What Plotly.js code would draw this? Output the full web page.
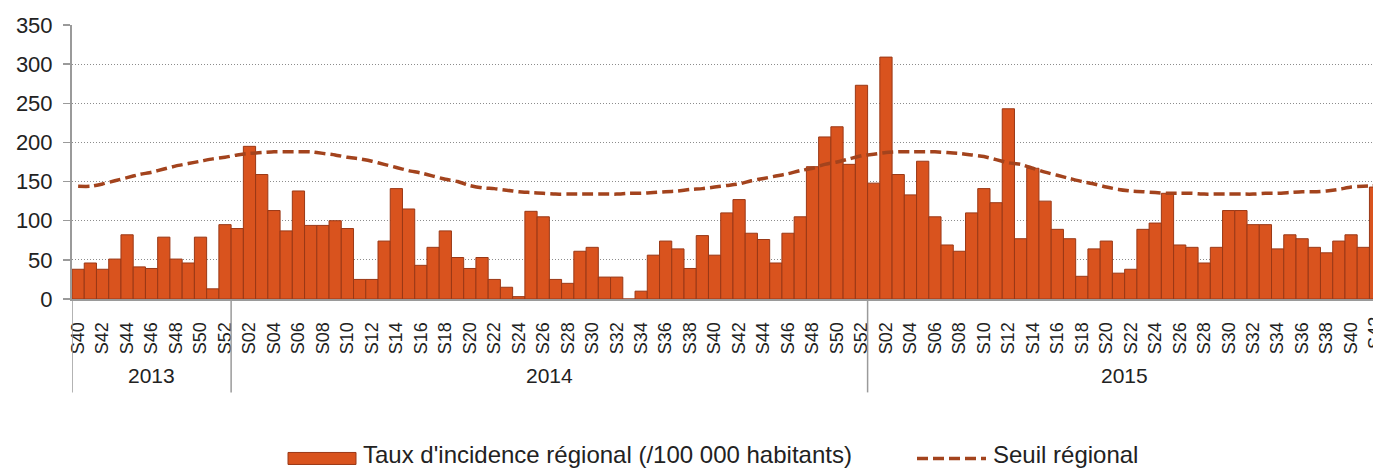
<!DOCTYPE html>
<html>
<head>
<meta charset="utf-8">
<script src="https://cdn.plot.ly/plotly-3.0.1.min.js"></script>
<style>html,body{margin:0;padding:0;background:#fff;}#chart{width:1373px;height:468px;}</style>
</head>
<body>
<div id="chart"></div>
<script>
const years = ['2013', '2014', '2015'];
const weeks2013 = ['S40','S41','S42','S43','S44','S45','S46','S47','S48','S49','S50','S51','S52'];
const weeks2014 = ['S01','S02','S03','S04','S05','S06','S07','S08','S09','S10','S11','S12','S13','S14','S15','S16','S17','S18','S19','S20','S21','S22','S23','S24','S25','S26','S27','S28','S29','S30','S31','S32','S33','S34','S35','S36','S37','S38','S39','S40','S41','S42','S43','S44','S45','S46','S47','S48','S49','S50','S51','S52'];
const weeks2015 = ['S01','S02','S03','S04','S05','S06','S07','S08','S09','S10','S11','S12','S13','S14','S15','S16','S17','S18','S19','S20','S21','S22','S23','S24','S25','S26','S27','S28','S29','S30','S31','S32','S33','S34','S35','S36','S37','S38','S39','S40','S41','S42'];

const incidence2013 = [38, 46, 38, 51, 82, 41, 39, 79, 51, 46, 79, 13, 95];
const incidence2014 = [90, 195, 159, 113, 87, 138, 94, 94, 100, 90,
                       25, 25, 74, 141, 115, 43, 66, 87, 53, 39,
                       53, 25, 15, 3, 112, 105, 25, 20, 61, 66,
                       28, 28, 0, 10, 56, 74, 64, 39, 81, 56,
                       110, 127, 84, 76, 46, 84, 105, 169, 207, 220,
                       172, 273];
const incidence2015 = [148, 309, 159, 133, 176, 105, 69, 61, 110, 141,
                       123, 243, 77, 167, 125, 89, 77, 29, 64, 74,
                       33, 38, 89, 97, 135, 69, 66, 46, 66, 113,
                       113, 95, 95, 64, 82, 77, 66, 59, 74, 82,
                       66, 143];

const seuil2013 = [144, 144, 147, 151, 155, 159, 162, 166, 170, 173, 176, 179, 181];
const seuil2014 = [184, 186, 187, 188, 188, 188, 188, 186, 184, 181,
                   179, 176, 172, 168, 164, 161, 157, 153, 150, 145,
                   142, 141, 139, 137, 136, 135, 134, 134, 134, 134,
                   134, 134, 135, 135, 136, 137, 138, 140, 141, 143,
                   145, 147, 151, 154, 157, 160, 164, 167, 172, 175,
                   179, 183];
const seuil2015 = [185, 187, 188, 188, 188, 188, 187, 186, 184, 182,
                   178, 174, 172, 167, 162, 158, 154, 150, 147, 143,
                   140, 138, 137, 136, 135, 135, 135, 134, 134, 134,
                   134, 134, 135, 135, 136, 137, 137, 138, 140, 143,
                   144, 145];

const seriesNames = ["Taux d'incidence régional (/100 000 habitants)", 'Seuil régional'];

const weeksByYear = [weeks2013, weeks2014, weeks2015];
const incidence = [].concat(incidence2013, incidence2014, incidence2015);
const seuil = [].concat(seuil2013, seuil2014, seuil2015);

const cats = [], weekOf = [];
const yearStart = [], yearEnd = [];
weeksByYear.forEach((wk, yi) => {
  yearStart.push(cats.length);
  wk.forEach(w => { cats.push(years[yi] + '-' + w); weekOf.push(w); });
  yearEnd.push(cats.length - 1);
});

const tickvals = [], ticktext = [];
cats.forEach((c, i) => {
  if (parseInt(weekOf[i].slice(1), 10) % 2 === 0) { tickvals.push(c); ticktext.push(weekOf[i]); }
});

// layout geometry (pixels)
const W = 1373, H = 468, L = 72, T = 25, B = 169.3;
const plotW = W - L, plotH = H - T - B;
const step = 12.24;
const xr = [-0.5, -0.5 + plotW / step];
const px2x = p => (p - L) / plotW;
const py2y = p => (H - B - p) / plotH;

const FONT = 'Liberation Sans, Arial, sans-serif';
const BAR = '#D9531E', BARLINE = '#9A3816', LINE = '#A3431D';

const traces = [
  { type: 'bar', x: cats, y: incidence, name: seriesNames[0],
    marker: { color: BAR, line: { color: BARLINE, width: 1 } }, hoverinfo: 'x+y' },
  { type: 'scatter', mode: 'lines', x: cats, y: seuil, name: seriesNames[1],
    line: { color: LINE, width: 3.5, dash: '11px,5px', shape: 'spline', smoothing: 0.6 } }
];

const shapes = [];
yearStart.forEach(s => {
  shapes.push({ type: 'line', xref: 'x', yref: 'paper', x0: s - 0.5, x1: s - 0.5,
    y0: 0, y1: py2y(392), line: { color: '#9a9a9a', width: 1.5 } });
});
// custom legend symbols
shapes.push({ type: 'rect', xref: 'paper', yref: 'paper', x0: px2x(288), x1: px2x(356),
  y0: py2y(464), y1: py2y(452), fillcolor: BAR, line: { color: BARLINE, width: 1 } });
shapes.push({ type: 'line', xref: 'paper', yref: 'paper', x0: px2x(917), x1: px2x(986),
  y0: py2y(458), y1: py2y(458), line: { color: LINE, width: 3.5, dash: '11px,5px' } });

const annotations = years.map((y, i) => ({
  xref: 'x', yref: 'paper', x: (yearStart[i] + yearEnd[i]) / 2, y: py2y(375),
  text: y, showarrow: false, xanchor: 'center', yanchor: 'middle',
  font: { family: FONT, size: 21, color: '#222' }
}));
// last week label, partly cut by the page edge as in the source
const lastIdx = cats.length - 1;
if (parseInt(weekOf[lastIdx].slice(1), 10) % 2 === 0) {
  annotations.push({ xref: 'paper', yref: 'paper', x: (lastIdx - xr[0]) / (xr[1] - xr[0]),
    y: py2y(315), text: weekOf[lastIdx], textangle: -90, showarrow: false,
    xanchor: 'center', yanchor: 'top', font: { family: FONT, size: 18, color: '#222' } });
}
annotations.push({ xref: 'paper', yref: 'paper', x: px2x(361), y: py2y(454), text: seriesNames[0],
  showarrow: false, xanchor: 'left', yanchor: 'middle', font: { family: FONT, size: 24, color: '#222' } });
annotations.push({ xref: 'paper', yref: 'paper', x: px2x(991), y: py2y(454), text: seriesNames[1],
  showarrow: false, xanchor: 'left', yanchor: 'middle', font: { family: FONT, size: 24, color: '#222' } });

const layout = {
  width: W, height: H,
  margin: { l: L, r: 0, t: T, b: B, pad: 0 },
  paper_bgcolor: '#fff', plot_bgcolor: '#fff',
  showlegend: false,
  bargap: 0,
  font: { family: FONT, color: '#222' },
  xaxis: {
    type: 'category', range: xr, tickmode: 'array', tickvals: tickvals, ticktext: ticktext,
    tickangle: -90, tickfont: { family: FONT, size: 18, color: '#222' },
    ticks: '', ticklabelstandoff: 14, showgrid: false, zeroline: false,
    showline: true, linecolor: '#9a9a9a', linewidth: 2, fixedrange: true
  },
  yaxis: {
    range: [0, 350], dtick: 50, tick0: 0,
    showgrid: true, gridcolor: '#8c8c8c', griddash: '1px,2px', gridwidth: 1,
    zeroline: false, showline: true, linecolor: '#9a9a9a', linewidth: 2,
    ticks: 'outside', ticklen: 7, tickcolor: '#9a9a9a', tickwidth: 1.5,
    tickfont: { family: FONT, size: 22, color: '#222' }, ticklabelstandoff: 6, fixedrange: true
  },
  shapes: shapes,
  annotations: annotations
};

Plotly.newPlot('chart', traces, layout, { displayModeBar: false, staticPlot: true });
</script>
</body>
</html>
